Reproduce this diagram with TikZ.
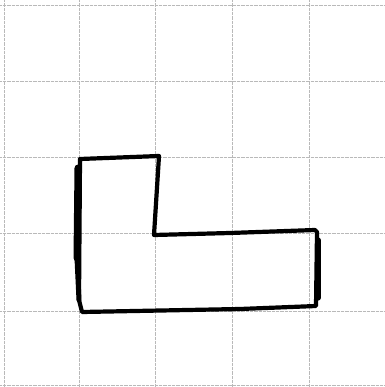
\documentclass[tikz,border=0pt]{standalone}
\begin{document}
\begin{tikzpicture}[x=1pt,y=-1pt,
  gridline/.style={gray!55,line width=0.8pt,dash pattern=on 0.6pt off 0.7pt},
  pen/.style={black,line width=4.2pt,line join=round,line cap=round}]
\useasboundingbox (0,0) rectangle (384,387);
\fill[white] (0,0) rectangle (384,387);
% grid
\foreach \x in {4,79,155,232,309} \draw[gridline] (\x,0) -- (\x,387);
\foreach \y in {5,81,157,233,311,385} \draw[gridline] (0,\y) -- (384,\y);
% L-shape
\draw[pen] (80,159) -- (159,156) -- (154,235) -- (230,233) -- (315,230)
  -- (317,232) -- (316,306) -- (240,309) -- (82,312) -- (79,300) -- cycle;
\draw[black,line width=7pt,line cap=round] (78,168) -- (77,258);
\draw[black,line width=5pt,line cap=round] (77,258) -- (79,300);
\draw[black,line width=5pt,line cap=round] (318,240) -- (318,298);
\end{tikzpicture}
\end{document}
